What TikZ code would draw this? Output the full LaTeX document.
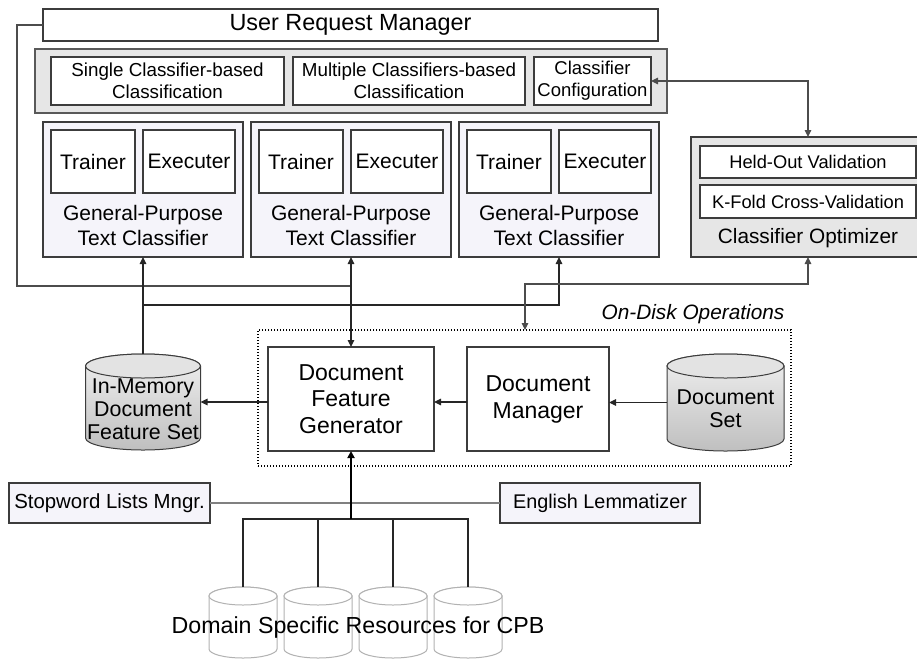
\documentclass[tikz,border=0pt]{standalone}
\usepackage{fontspec}
\setmainfont{Liberation Sans}
\usetikzlibrary{arrows.meta,calc}
\definecolor{lav}{RGB}{245,244,250}
\definecolor{pgray}{RGB}{230,230,230}
\definecolor{bord}{RGB}{60,60,60}
\newcommand\mycyl[7]{%
  \path[#6] (#1-#4,#2+#5) -- (#1-#4,#3-#5)
     arc[start angle=180,end angle=360,x radius=#4pt,y radius=#5pt]
     -- (#1+#4,#2+#5)
     arc[start angle=0,end angle=180,x radius=#4pt,y radius=#5pt] -- cycle;
  \path[#7] (#1,#2+#5) ellipse[x radius=#4pt,y radius=#5pt];
}
\begin{document}
\begin{tikzpicture}[x=1pt,y=-1pt,
  box/.style={draw=bord, line width=1.1pt, inner sep=0pt, outer sep=0pt, align=center},
  ghost/.style={inner sep=0pt, outer sep=0pt, align=center},
  fs/.style 2 args={font=\fontsize{#1}{#2}\selectfont},
  conn/.style={draw=black!85, line width=1.1pt},
  arr/.style={-{Triangle[length=7pt,width=6.5pt]}},
  darr/.style={{Triangle[length=7pt,width=6.5pt]}-{Triangle[length=7pt,width=6.5pt]}},
]
\useasboundingbox (0,0) rectangle (917,659);
\clip (0,0) rectangle (917,659);

% User request manager
\node[box, fill=white, minimum width=615, minimum height=32, fs={23.4}{27}] (urm) at (350.5,25) {User Request Manager};

% classification panel
\node[box, draw=bord!85, fill=pgray, minimum width=632, minimum height=64] (panel) at (351,81) {};
\node[box, fill=white, minimum width=233, minimum height=48, fs={18.8}{22}] (scb) at (167.5,81) {Single Classifier-based\\Classification};
\node[box, fill=white, minimum width=232, minimum height=48, fs={18.8}{22}] (mcb) at (409,81) {Multiple Classifiers-based\\Classification};
\node[box, fill=white, minimum width=117, minimum height=48, fs={18.5}{22}] (cc) at (592.5,81) {Classifier\\Configuration};

% general purpose classifiers
\foreach \i/\cx in {1/143,2/351,3/559}{
  \node[box, fill=lav, minimum width=200, minimum height=135] (gtc\i) at (\cx,189.5) {};
  \node[box, fill=white, minimum width=84, minimum height=63, fs={21}{25}] (tr\i) at (\cx-50,161.5) {Trainer};
  \node[box, fill=white, minimum width=92, minimum height=63, fs={21}{25}] (ex\i) at (\cx+46,161.5) {Executer};
  \node[ghost, fs={21}{25}] (gtcl\i) at (\cx,225.5) {General-Purpose\\Text Classifier};
}

% classifier optimizer
\node[box, fill=pgray, minimum width=234, minimum height=120] (opt) at (808,197) {};
\node[box, fill=white, minimum width=216, minimum height=32, fs={18.3}{20}] (ho) at (808,162) {Held-Out Validation};
\node[box, fill=white, minimum width=216, minimum height=33, fs={18.3}{20}] (kf) at (808,201.5) {K-Fold Cross-Validation};
\node[ghost, fs={20.8}{24}] (optl) at (808,238) {Classifier Optimizer};

% on-disk operations
\node[draw=black, line width=1.4pt, dash pattern=on 1.4pt off 1.6pt, inner sep=0pt, outer sep=0pt, minimum width=533, minimum height=136] (disk) at (524.5,398) {};
\node[ghost, fs={20.8}{24}] (diskl) at (693,314) {\itshape On-Disk Operations};
\node[box, fill=white, minimum width=166, minimum height=104, fs={23}{26.5}] (dfg) at (351,399) {Document\\Feature\\Generator};
\node[box, fill=white, minimum width=142, minimum height=104, fs={23}{27}] (dm) at (538,399) {Document\\Manager};

% cylinders
\mycyl{143}{354}{450}{57.5}{12}{draw=bord, line width=1pt, top color=gray!12, bottom color=gray!50}{draw=bord, line width=1pt, fill=gray!22}
\node[ghost, minimum width=115, minimum height=96] (imfs) at (143,402) {};
\node[ghost, fs={21.4}{23}] (imfsl) at (143,409) {In-Memory\\Document\\Feature Set};

\mycyl{725.5}{354}{451}{58.5}{12}{draw=bord, line width=1pt, top color=gray!12, bottom color=gray!50}{draw=bord, line width=1pt, fill=gray!22}
\node[ghost, minimum width=117, minimum height=97] (ds) at (725.5,402.5) {};
\node[ghost, fs={21.4}{23}] (dsl) at (725.5,408.5) {Document\\Set};

% bottom
\node[box, fill=lav, minimum width=201, minimum height=40, fs={20.4}{24}] (sw) at (109.5,503) {Stopword Lists Mngr.};
\node[box, fill=lav, minimum width=200, minimum height=40, fs={19.8}{24}] (lem) at (600,503) {English Lemmatizer};

\foreach \i/\cx in {1/243,2/318,3/393,4/468}{
  \mycyl{\cx}{587}{658}{34}{9}{draw=gray!60, line width=1pt, fill=white}{draw=gray!60, line width=1pt, fill=white}
  \node[ghost, minimum width=68, minimum height=71] (c\i) at (\cx,622.5) {};
}
\node[ghost, fs={23.2}{27}] (dsr) at (358,627) {Domain Specific Resources for CPB};

% connectors
\coordinate (j1) at (351,286);
\draw[conn, draw=black!70] (urm.west) -- ++(-26,0) |- (j1);
\draw[conn, darr] (gtc2.south) -- (dfg.north);
\draw[conn, arr] (imfs.north) -- (gtc1.south);
\coordinate (j2) at (143,305);
\draw[conn, arr] (j2) -| (gtc3.south);
\draw[conn, draw=black!70, darr] (cc.east) -| (opt.north);
\coordinate (j3) at (525,330);
\draw[conn, draw=black!70, darr] (j3) -- ++(0,-46) -| (opt.south);
\draw[conn, arr] (dfg.west |- imfs.east) -- (imfs.east);
\draw[conn, arr] ([yshift=-3pt]dm.west) -- ([yshift=-3pt]dfg.east);
\draw[conn, arr] (ds.west) -- (dm.east |- ds.west);

\draw[draw=black!50, line width=2pt] (sw.east) -- (lem.west);
\coordinate (bus) at (351,519);
\draw[conn] (c1.north) |- (bus) -| (c4.north);
\draw[conn] (c2.north) -- (c2.north |- bus);
\draw[conn] (c3.north) -- (c3.north |- bus);
\draw[draw=black, line width=2.2pt, -{Triangle[length=7pt,width=7pt]}] (bus) -- (dfg.south);
\end{tikzpicture}
\end{document}
